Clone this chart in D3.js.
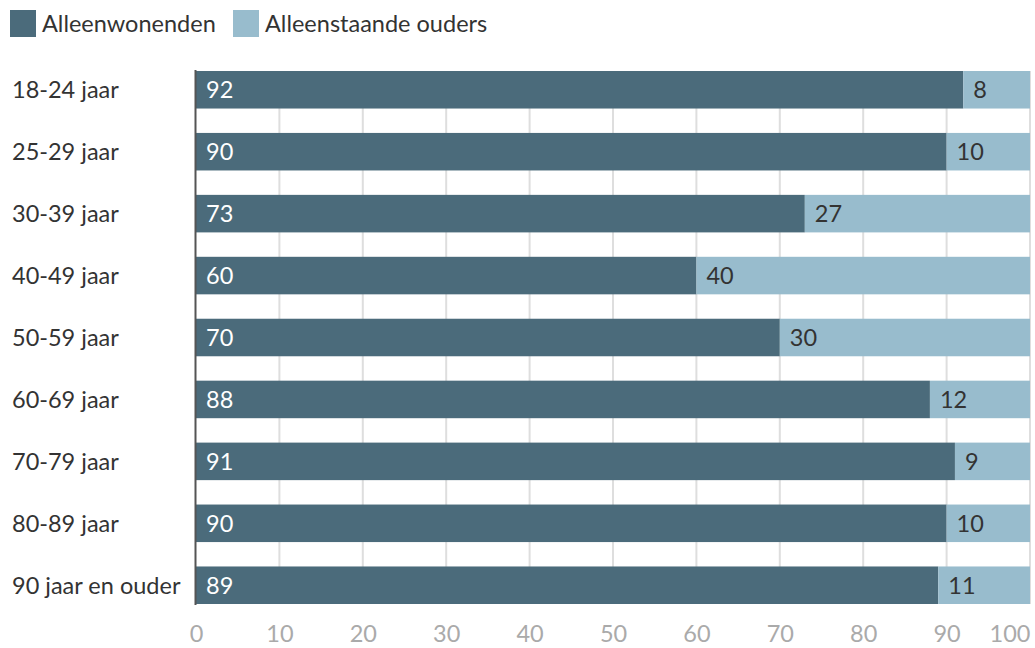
<!DOCTYPE html>
<html>
<head>
<meta charset="utf-8">
<script src="https://cdn.jsdelivr.net/npm/d3@7"></script>
<style>
    body { margin: 0; background: #fff; }
    svg { font-family: Lato, "Open Sans", sans-serif; }
</style>
</head>
<body>
<script>
const categories = ["18-24 jaar", "25-29 jaar", "30-39 jaar", "40-49 jaar", "50-59 jaar",
    "60-69 jaar", "70-79 jaar", "80-89 jaar", "90 jaar en ouder"]
const alleenwonenden = [92, 90, 73, 60, 70, 88, 91, 90, 89]
const alleenstaandeOuders = [8, 10, 27, 40, 30, 12, 9, 10, 11]
const seriesNames = ["Alleenwonenden", "Alleenstaande ouders"]
const xTicks = [0, 10, 20, 30, 40, 50, 60, 70, 80, 90, 100]

const colors = ["#4b6b7b", "#98bccd"]
const width = 1035
const height = 648
const left = 196
const right = 1030
const fs = 23.5

const rows = categories.map((c, i) => ({cat: c, a: alleenwonenden[i], b: alleenstaandeOuders[i]}))

const sx = d3.scaleLinear()
    .domain([0, 100])
    .range([left, right])

const sy = d3.scaleBand()
    .domain(categories)
    .range([71, 604])
    .paddingInner(0.394)
    .paddingOuter(0)

const svg = d3.select("body")
    .append("svg")
    .attr("width", width)
    .attr("height", height)

// legend
const legend = svg.append("g").attr("class", "legend")
const legendX = [10, 233]
seriesNames.forEach((name, i) => {
    legend.append("rect")
        .attr("x", legendX[i])
        .attr("y", 10)
        .attr("width", 26)
        .attr("height", 27)
        .attr("fill", colors[i])
    legend.append("text")
        .attr("x", legendX[i] + 32)
        .attr("y", 32)
        .attr("font-size", fs)
        .attr("fill", "#333")
        .text(name)
})

// grid
const yTop = sy(categories[0])
const yBottom = sy(categories[categories.length - 1]) + sy.bandwidth()
svg.append("g")
    .attr("class", "grid")
    .selectAll("line")
    .data(xTicks.slice(1))
    .enter().append("line")
    .attr("x1", d => sx(d))
    .attr("x2", d => sx(d))
    .attr("y1", yTop)
    .attr("y2", yBottom)
    .attr("stroke", "#dedede")
    .attr("stroke-width", 2)

// bars
const bars = svg.append("g").attr("class", "bars")
    .selectAll("g")
    .data(rows)
    .enter().append("g")

bars.append("rect")
    .attr("x", sx(0))
    .attr("y", d => sy(d.cat))
    .attr("width", d => sx(d.a) - sx(0))
    .attr("height", sy.bandwidth())
    .attr("fill", colors[0])

bars.append("rect")
    .attr("x", d => sx(d.a))
    .attr("y", d => sy(d.cat))
    .attr("width", d => sx(d.a + d.b) - sx(d.a))
    .attr("height", sy.bandwidth())
    .attr("fill", colors[1])

bars.append("text")
    .attr("x", sx(0) + 10)
    .attr("y", d => sy(d.cat) + sy.bandwidth() / 2)
    .attr("dy", "0.36em")
    .attr("font-size", fs)
    .attr("fill", "#fff")
    .text(d => d.a)

bars.append("text")
    .attr("x", d => sx(d.a) + 10)
    .attr("y", d => sy(d.cat) + sy.bandwidth() / 2)
    .attr("dy", "0.36em")
    .attr("font-size", fs)
    .attr("fill", "#333")
    .text(d => d.b)

// category labels
svg.append("g")
    .selectAll("text")
    .data(categories)
    .enter().append("text")
    .attr("x", 12)
    .attr("y", d => sy(d) + sy.bandwidth() / 2)
    .attr("dy", "0.36em")
    .attr("font-size", fs)
    .attr("fill", "#333")
    .text(d => d)

// y axis line
svg.append("line")
    .attr("x1", sx(0) - 0.5)
    .attr("x2", sx(0) - 0.5)
    .attr("y1", yTop - 1)
    .attr("y2", yBottom + 1)
    .attr("stroke", "#555")
    .attr("stroke-width", 2)

// x axis
const xAxis = svg.append("g")
    .attr("transform", `translate(0,${yBottom + 21})`)
    .call(d3.axisBottom(sx).tickValues(xTicks).tickSize(0).tickPadding(0))
xAxis.select(".domain").remove()
xAxis.selectAll("text")
    .attr("font-family", "Lato, sans-serif")
    .attr("font-size", fs)
    .attr("fill", "#aaa")
    .attr("dy", "0.74em")
    .filter(d => d === 100)
    .attr("text-anchor", "end")
</script>
</body>
</html>
